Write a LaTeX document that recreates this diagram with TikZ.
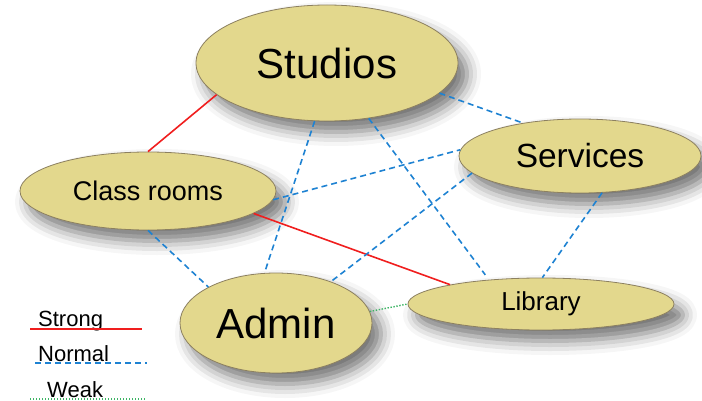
\documentclass[tikz,border=0pt]{standalone}
\usepackage{fontspec}
\setmainfont{Liberation Sans}
\usetikzlibrary{shapes.geometric,shadows.blur}

\definecolor{placefill}{RGB}{227,216,141}
\definecolor{placeedge}{RGB}{140,128,96}
\definecolor{strongred}{RGB}{240,30,30}
\definecolor{normalblue}{RGB}{30,130,210}
\definecolor{weakgreen}{RGB}{60,180,100}

\tikzset{
  place/.style={ellipse, draw=placeedge, line width=0.8pt, fill=placefill,
    inner sep=0pt, text=black,
    blur shadow={shadow xshift=9pt, shadow yshift=-11pt,
      shadow blur radius=14pt, shadow opacity=55}},
  strong/.style={strongred, line width=1.6pt},
  normal/.style={normalblue, line width=1.6pt, dash pattern=on 6pt off 4pt},
  weak/.style={weakgreen, line width=1.4pt, dash pattern=on 1.4pt off 1.6pt},
  legendtext/.style={anchor=base west, inner sep=0pt, font=\fontsize{22}{26}\selectfont}
}

\begin{document}
\begin{tikzpicture}[x=1pt, y=-1pt]
  \useasboundingbox (0,0) rectangle (702,401);

  % places
  \node[place, minimum width=262pt, minimum height=116pt,
        font=\fontsize{42}{48}\selectfont] (st) at (327,63) {Studios};
  \node[place, minimum width=242pt, minimum height=74pt,
        font=\fontsize{33.5}{38}\selectfont] (sv) at (580,156) {Services};
  \node[place, minimum width=256pt, minimum height=78pt,
        font=\fontsize{27}{31}\selectfont] (cr) at (148,191) {Class rooms};
  \node[place, minimum width=192pt, minimum height=100pt,
        font=\fontsize{42}{48}\selectfont] (ad) at (276,323) {Admin};
  \node[place, minimum width=266pt, minimum height=52pt,
        font=\fontsize{26}{30}\selectfont] (lb) at (541,304) {Library};

  % strong links
  \draw[strong] (st.196.2) -- (cr.90);
  \draw[strong] (cr.348.1) -- (lb.168.5);

  % normal links
  \draw[normal] (st.345.7) -- (sv.150.4);
  \draw[normal] (st.258.7) -- (ad.103.2);
  \draw[normal, shorten >=6pt] (st.307.5) -- (lb.155);
  \draw[normal] (cr.356) -- (sv.177.7);
  \draw[normal] (sv.189.7) -- (ad.37.7);
  \draw[normal] (cr.270) -- (ad.152.7);
  \draw[normal] (sv.301.4) -- (lb.87.8);

  % weak link
  \draw[weak] (ad.7.6) -- (lb.180);

  % legend
  \node[legendtext] (lgs) at (38,326) {Strong};
  \node[legendtext] (lgn) at (38,361) {Normal};
  \node[legendtext] (lgw) at (47,397) {Weak};
  \coordinate (s1) at (30,329);  \coordinate (s2) at (142,329);
  \coordinate (n1) at (35,363);  \coordinate (n2) at (147,363);
  \coordinate (w1) at (30,399);  \coordinate (w2) at (145,399);
  \draw[strong] (s1) -- (s2);
  \draw[normal] (n1) -- (n2);
  \draw[weak] (w1) -- (w2);
\end{tikzpicture}
\end{document}
